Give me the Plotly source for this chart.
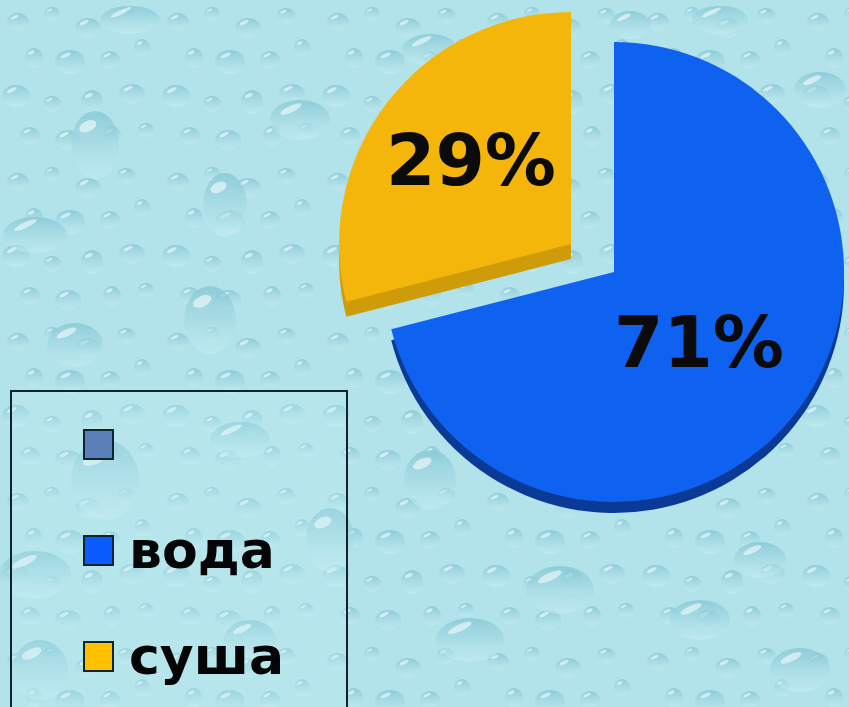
import base64
import plotly.graph_objects as go

labels = ["вода", "суша"]
values = [71, 29]
value_text = ["71%", "29%"]
water_color = "#0F62F0"
land_color = "#F5B60C"
water_rim = "#0A3A96"
land_rim = "#CE9C08"
legend_colors = ["#5B80B8", "#0A5CFF", "#FFC000"]
legend_names = ["", "вода", "суша"]

W, H = 849, 707
FONT = "DejaVu Sans"
BG = "#B2E2EA"
CLEAR = "rgba(0,0,0,0)"

# Decorative water-drop background: (x, y, rx, ry) in a repeating tile
drops = [
    (18, 22, 11, 9), (52, 14, 8, 7), (88, 28, 13, 10), (126, 16, 9, 8),
    (34, 58, 9, 10), (70, 62, 15, 12), (110, 60, 10, 9), (142, 48, 8, 9),
    (16, 96, 14, 11), (52, 104, 9, 8), (92, 102, 11, 12), (132, 94, 13, 10),
    (30, 136, 10, 9), (68, 140, 13, 10), (112, 136, 9, 10), (146, 130, 8, 7),
]
big_drops = [
    (95, 145, 24, 34), (35, 235, 32, 18), (225, 205, 22, 32), (210, 320, 26, 34),
    (300, 120, 30, 20), (430, 50, 28, 16), (130, 20, 30, 14), (75, 345, 28, 22),
    (105, 480, 34, 40), (35, 575, 36, 24), (40, 670, 28, 30), (430, 480, 26, 30),
    (560, 590, 34, 24), (700, 620, 30, 20), (760, 560, 26, 18), (330, 540, 24, 32),
    (470, 640, 34, 22), (800, 670, 30, 22), (250, 640, 26, 20), (630, 25, 20, 14),
    (720, 20, 28, 14), (820, 90, 26, 18), (240, 440, 30, 18),
]


def drop_svg(x, y, rx, ry):
    return (
        f'<ellipse cx="{x}" cy="{y}" rx="{rx}" ry="{ry}" fill="url(#d)"/>'
        f'<ellipse cx="{x - rx * 0.3:.1f}" cy="{y - ry * 0.55:.1f}" rx="{rx * 0.38:.1f}" '
        f'ry="{ry * 0.16:.1f}" fill="#ffffff" fill-opacity="0.55" '
        f'transform="rotate(-25 {x - rx * 0.3:.1f} {y - ry * 0.55:.1f})"/>'
    )


svg = (
    f'<svg xmlns="http://www.w3.org/2000/svg" width="{W}" height="{H}" viewBox="0 0 {W} {H}">'
    '<defs><linearGradient id="d" x1="0" y1="0" x2="0" y2="1">'
    '<stop offset="0" stop-color="#7FC4D2" stop-opacity="0.7"/>'
    '<stop offset="1" stop-color="#C8EEF3" stop-opacity="0.5"/></linearGradient>'
    '<pattern id="p" width="160" height="160" patternUnits="userSpaceOnUse">'
    + "".join(drop_svg(*d) for d in drops)
    + f'</pattern></defs><rect width="{W}" height="{H}" fill="{BG}"/>'
    f'<rect width="{W}" height="{H}" fill="url(#p)"/>'
    + "".join(drop_svg(*d) for d in big_drops)
    + "</svg>"
)
bg_uri = "data:image/svg+xml;base64," + base64.b64encode(svg.encode()).decode()


def dom(cx, cy, r):
    return dict(x=[(cx - r) / W, (cx + r) / W], y=[1 - (cy + r) / H, 1 - (cy - r) / H])


def pie(slice_colors, domain):
    return go.Pie(
        values=values, sort=False, direction="clockwise", rotation=0,
        marker=dict(colors=slice_colors, line=dict(width=0)),
        textinfo="none", hoverinfo="skip", showlegend=False, domain=domain,
    )


R = 230
fig = go.Figure()
fig.add_trace(pie([water_rim, CLEAR], dom(614, 283, R)))
fig.add_trace(pie([water_color, CLEAR], dom(614, 272, R)))
fig.add_trace(pie([CLEAR, land_rim], dom(571, 259, 232)))
fig.add_trace(pie([CLEAR, land_color], dom(571, 244, 232)))


def px(x):
    return x / W


def py(y):
    return 1 - y / H


shapes = [dict(type="rect", xref="paper", yref="paper", x0=px(11), x1=px(347),
               y0=py(391), y1=-0.01, line=dict(color="#10242E", width=2),
               fillcolor="rgba(200,240,245,0.22)")]
annotations = [
    dict(text=f"<b>{value_text[0]}</b>", xref="paper", yref="paper", x=px(699), y=py(342),
         xanchor="center", yanchor="middle", showarrow=False,
         font=dict(family=FONT, size=71, color="#0B0B0B")),
    dict(text=f"<b>{value_text[1]}</b>", xref="paper", yref="paper", x=px(471), y=py(160),
         xanchor="center", yanchor="middle", showarrow=False,
         font=dict(family=FONT, size=71, color="#0B0B0B")),
]
for name, col, y in zip(legend_names, legend_colors, [444.5, 550.5, 656.5]):
    shapes.append(dict(type="rect", xref="paper", yref="paper", x0=px(84), x1=px(113),
                       y0=py(y + 14.5), y1=py(y - 14.5),
                       line=dict(color="#10242E", width=2), fillcolor=col))
    if name:
        annotations.append(dict(text=f"<b>{name}</b>", xref="paper", yref="paper",
                                x=px(127), y=py(y - 1), xanchor="left", yanchor="middle",
                                showarrow=False,
                                font=dict(family=FONT, size=52, color="#050505")))

fig.update_layout(
    width=W, height=H, margin=dict(l=0, r=0, t=0, b=0),
    paper_bgcolor=BG, plot_bgcolor=BG, showlegend=False,
    shapes=shapes, annotations=annotations,
    images=[dict(source=bg_uri, xref="paper", yref="paper", x=0, y=1, sizex=1, sizey=1,
                 xanchor="left", yanchor="top", sizing="stretch", layer="below")],
)
fig.write_html("out.html", config={"displayModeBar": False},
               post_script="document.body.style.margin='0';document.documentElement.style.overflow='hidden';")
